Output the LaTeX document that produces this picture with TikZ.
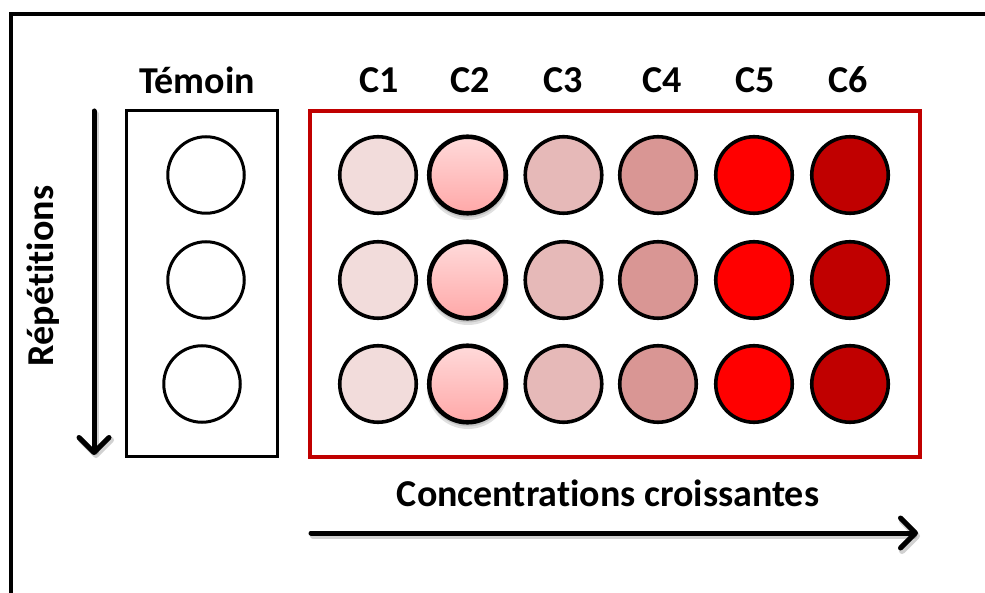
\documentclass[tikz,border=0pt]{standalone}
\usepackage{fontspec}
\setmainfont{Carlito}[Ligatures={NoCommon,NoContextual}]
\usetikzlibrary{arrows.meta}
\definecolor{frameRed}{RGB}{192,0,0}
\definecolor{cA}{RGB}{242,220,219}
\definecolor{cBtop}{RGB}{255,218,218}
\definecolor{cBbot}{RGB}{255,168,168}
\definecolor{cC}{RGB}{230,185,184}
\definecolor{cD}{RGB}{217,150,148}
\definecolor{cE}{RGB}{255,0,0}
\definecolor{cF}{RGB}{192,0,0}
\begin{document}
\begin{tikzpicture}[x=1pt,y=-1pt,
  lbl/.style={font=\fontsize{38}{41}\selectfont\bfseries, inner sep=0pt},
  well/.style={circle, draw=black, line width=3.6pt, minimum size=76.5pt, inner sep=0pt},
  ctrlwell/.style={well, line width=3pt, fill=white},
  gradwell/.style={well, line width=4.6pt, top color=cBtop, bottom color=cBbot},
  bigarrow/.style={line width=5pt, line cap=round, line join=round,
    -{Straight Barb[length=15pt, width=30pt, line cap=round, line join=round]}},
  arrowshadow/.style={bigarrow, draw=black, opacity=0.18, line width=6pt}]
\useasboundingbox (0,0) rectangle (985,593);

% outer frame (top and left edges)
\coordinate (frTL) at (11,14);
\coordinate (frTR) at (985,14);
\coordinate (frBL) at (11,593);
\draw[line width=3.5pt] (frTR) -- (frTL) -- (frBL);

% control box and treatment box
\node[draw=black, line width=2.6pt, minimum width=151pt, minimum height=346pt, inner sep=0pt]
  (ctrlbox) at (202,283.5) {};
\node[draw=frameRed, line width=3.5pt, minimum width=610pt, minimum height=346pt, inner sep=0pt]
  (trtbox) at (615,284) {};

% column headings
\node[lbl] (temoin) at (197,80) {Témoin};
\node[lbl] (h1) at (379,80) {C1};
\node[lbl] (h2) at (470,80) {C2};
\node[lbl] (h3) at (563,80) {C3};
\node[lbl] (h4) at (662,80) {C4};
\node[lbl] (h5) at (755,80) {C5};
\node[lbl] (h6) at (848,80) {C6};

% control wells
\node[ctrlwell] (t1) at (206,175) {};
\node[ctrlwell] (t2) at (206,280) {};
\node[ctrlwell] (t3) at (202,384) {};

% treatment wells, three repetitions
\foreach \r/\y in {1/175,2/280,3/384}{
  \node[well, fill=cA] (w\r a) at (378,\y) {};
  \fill[black, opacity=0.12] (468,\y+4) circle (41pt);
  \fill[black, opacity=0.12] (468,\y+2.5) circle (40pt);
  \node[gradwell] (w\r b) at (467.5,\y) {};
  \node[well, fill=cC] (w\r c) at (563.5,\y) {};
  \node[well, fill=cD] (w\r d) at (658,\y) {};
  \node[well, fill=cE] (w\r e) at (754,\y) {};
  \node[well, fill=cF] (w\r f) at (850,\y) {};
}

% repetitions axis
\coordinate (repS) at (94,111);
\coordinate (repE) at (94,455);
\draw[arrowshadow] ([shift={(2,3)}]repS) -- ([shift={(2,3)}]repE);
\draw[bigarrow] (repS) -- (repE);
\node[lbl, rotate=90] (rep) at (43,276) {Répétitions};

% concentration axis
\coordinate (conS) at (311,533);
\coordinate (conE) at (918,533);
\draw[arrowshadow] ([shift={(2,3)}]conS) -- ([shift={(2,3)}]conE);
\draw[bigarrow] (conS) -- (conE);
\node[lbl] (conc) at (608,493) {Concentrations croissantes};
\end{tikzpicture}
\end{document}
